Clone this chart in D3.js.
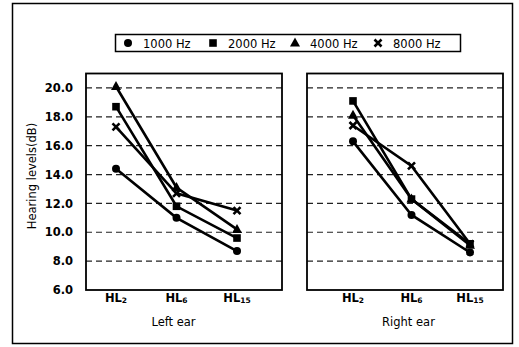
<!DOCTYPE html>
<html><head><meta charset="utf-8">
<script src="https://cdn.jsdelivr.net/npm/d3@7"></script>
<style>body{margin:0;background:#fff}svg{display:block}</style>
</head><body>
<svg id="c" width="519" height="347"></svg>
<script>
const categories = ["2", "6", "15"];
const seriesNames = ["1000 Hz", "2000 Hz", "4000 Hz", "8000 Hz"];
const symbols = ["circle", "square", "triangle", "cross"];
const leftEar = {
  "1000 Hz": [14.4, 11.0, 8.7],
  "2000 Hz": [18.7, 11.8, 9.6],
  "4000 Hz": [20.1, 13.1, 10.2],
  "8000 Hz": [17.3, 12.7, 11.5]
};
const rightEar = {
  "1000 Hz": [16.3, 11.2, 8.6],
  "2000 Hz": [19.1, 12.3, 9.2],
  "4000 Hz": [18.1, 12.3, 9.1],
  "8000 Hz": [17.4, 14.6, 9.2]
};
const yTicks = [6, 8, 10, 12, 14, 16, 18, 20];
const yDomain = [6, 21];
const panelTitles = ["Left ear", "Right ear"];

const svg = d3.select("#c");
const font = "DejaVu Sans, sans-serif";

// outer frame
svg.append("rect").attr("x", 12.5).attr("y", 3.5).attr("width", 500).attr("height", 340)
  .attr("fill", "none").attr("stroke", "#000").attr("stroke-width", 1.5);

const y = d3.scaleLinear().domain(yDomain).range([290, 73.5]);

const panels = [
  {x0: 86, x1: 282, px: [116, 237], data: leftEar, title: panelTitles[0]},
  {x0: 307, x1: 503, px: [353, 470], data: rightEar, title: panelTitles[1]}
];

function drawSymbol(g, type, cx, cy) {
  if (type === "circle") {
    g.append("circle").attr("cx", cx).attr("cy", cy).attr("r", 4).attr("fill", "#000");
  } else if (type === "square") {
    g.append("rect").attr("x", cx - 3.8).attr("y", cy - 3.8).attr("width", 7.6).attr("height", 7.6).attr("fill", "#000");
  } else if (type === "triangle") {
    g.append("path").attr("d", `M${cx},${cy-5.5}L${cx+5},${cy+3.5}L${cx-5},${cy+3.5}Z`).attr("fill", "#000");
  } else {
    g.append("path").attr("d", `M${cx-3.5},${cy-3.5}L${cx+3.5},${cy+3.5}M${cx+3.5},${cy-3.5}L${cx-3.5},${cy+3.5}`)
      .attr("stroke", "#000").attr("stroke-width", 2.6).attr("fill", "none");
  }
}

panels.forEach((p, pi) => {
  const g = svg.append("g");
  const x = d3.scalePoint().domain(categories).range(p.px);
  // gridlines
  g.selectAll("line.grid").data(yTicks.filter(t => t > yDomain[0])).enter().append("line")
    .attr("x1", p.x0).attr("x2", p.x1)
    .attr("y1", d => y(d)).attr("y2", d => y(d))
    .attr("stroke", "#222").attr("stroke-width", 1.2).attr("stroke-dasharray", "6,4");
  // frame
  g.append("rect").attr("x", p.x0).attr("y", y(yDomain[1])).attr("width", p.x1 - p.x0)
    .attr("height", y(yDomain[0]) - y(yDomain[1]))
    .attr("fill", "none").attr("stroke", "#000").attr("stroke-width", 1.8);
  // lines
  const line = d3.line().x((d, i) => x(categories[i])).y(d => y(d));
  seriesNames.forEach((s, si) => {
    g.append("path").datum(p.data[s]).attr("d", line)
      .attr("fill", "none").attr("stroke", "#000").attr("stroke-width", 2.6);
  });
  seriesNames.forEach((s, si) => {
    p.data[s].forEach((v, i) => drawSymbol(g, symbols[si], x(categories[i]), y(v)));
  });
  // x labels
  categories.forEach(c => {
    const t = g.append("text").attr("x", x(c)).attr("y", 302).attr("text-anchor", "middle")
      .attr("font-family", font).attr("font-size", 11.5).attr("font-weight", "bold");
    t.append("tspan").text("HL");
    t.append("tspan").attr("font-size", 7.5).attr("dy", 1).text(c);
  });
  g.append("text").attr("x", (p.px[0] + p.px[1]) / 2 - 3).attr("y", 326).attr("text-anchor", "middle")
    .attr("font-family", font).attr("font-size", 11.5).text(p.title);
  // y axis on left panel
  if (pi === 0) {
    const ax = d3.axisLeft(y).tickValues(yTicks).tickFormat(d3.format(".1f")).tickSize(0).tickPadding(13);
    const a = g.append("g").attr("transform", `translate(${p.x0},0)`).call(ax);
    a.select(".domain").remove();
    a.selectAll("text").attr("font-family", font).attr("font-size", 11.5).attr("font-weight", "bold").attr("fill", "#000");
  }
});

// y title
svg.append("text").attr("transform", "translate(36,176) rotate(-90)").attr("text-anchor", "middle")
  .attr("font-family", font).attr("font-size", 11.5).text("Hearing levels(dB)");

// legend
svg.append("rect").attr("x", 115.5).attr("y", 34.5).attr("width", 345).attr("height", 17)
  .attr("fill", "#fff").attr("stroke", "#000").attr("stroke-width", 1.5);
const legX = [128, 213, 295, 378];
const lg = svg.append("g");
seriesNames.forEach((s, i) => {
  drawSymbol(lg, symbols[i], legX[i], 43);
  lg.append("text").attr("x", legX[i] + 15).attr("y", 47.5).attr("font-family", font)
    .attr("font-size", 11.5).text(s);
});
</script>
</body></html>
